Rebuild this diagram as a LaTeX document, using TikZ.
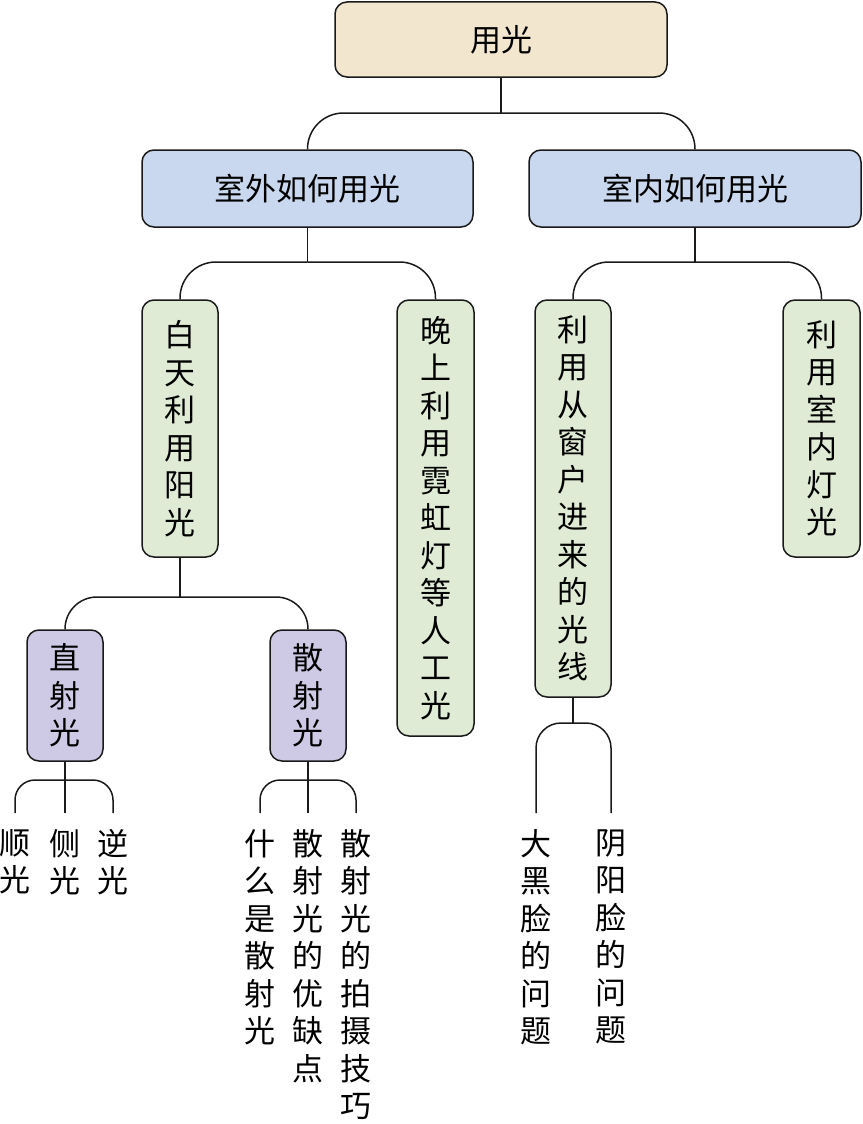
\documentclass[tikz,border=0pt]{standalone}
\usepackage{fontspec}
\newfontfamily\cjk{Noto Sans CJK SC}
\definecolor{cRoot}{HTML}{F2E6CF}
\definecolor{cBlue}{HTML}{C9D8EE}
\definecolor{cGreen}{HTML}{DFEBD5}
\definecolor{cPurple}{HTML}{CEC9E4}
\definecolor{cLine}{HTML}{1A1A1A}
\tikzset{
  box/.style={draw=cLine, line width=1.5pt, rounded corners=12pt, align=center,
    inner sep=0pt, font=\cjk\fontsize{31pt}{37.5pt}\selectfont},
  leaf/.style={anchor=north, inner xsep=0pt, inner ysep=16pt, align=center,
    font=\cjk\fontsize{31pt}{37.5pt}\selectfont},
  conn/.style={draw=cLine, line width=1.5pt},
}
\begin{document}
\begin{tikzpicture}[x=1pt,y=-1pt]
\useasboundingbox (0,0) rectangle (862,1124);
% boxes
\node[box, fill=cRoot, minimum width=332, minimum height=75] (root) at (501,39.5) {用光};
\node[box, fill=cBlue, minimum width=331, minimum height=77] (out) at (307.5,188.5) {室外如何用光};
\node[box, fill=cBlue, minimum width=332, minimum height=77] (in) at (695,188.5) {室内如何用光};
\node[box, fill=cGreen, minimum width=76, minimum height=257] (day) at (180,428.5) {白\\天\\利\\用\\阳\\光};
\node[box, fill=cGreen, minimum width=77, minimum height=436] (night) at (435.5,518) {晚\\上\\利\\用\\霓\\虹\\灯\\等\\人\\工\\光};
\node[box, fill=cGreen, minimum width=76, minimum height=397] (win) at (573,498.5) {利\\用\\从\\窗\\户\\进\\来\\的\\光\\线};
\node[box, fill=cGreen, minimum width=77, minimum height=257] (lamp) at (821.5,428.5) {利\\用\\室\\内\\灯\\光};
\node[box, fill=cPurple, minimum width=76, minimum height=131] (direct) at (65,695.5) {直\\射\\光};
\node[box, fill=cPurple, minimum width=76, minimum height=131] (diffuse) at (308,695.5) {散\\射\\光};
% leaves
\node[leaf] (l1) at (15,813) {顺\\光};
\node[leaf] (l2) at (65,813) {侧\\光};
\node[leaf] (l3) at (113,813) {逆\\光};
\node[leaf] (l4) at (260,813) {什\\么\\是\\散\\射\\光};
\node[leaf] (l5) at (308,813) {散\\射\\光\\的\\优\\缺\\点};
\node[leaf] (l6) at (356,813) {散\\射\\光\\的\\拍\\摄\\技\\巧};
\node[leaf] (l7) at (536,813) {大\\黑\\脸\\的\\问\\题};
\node[leaf] (l8) at (611,813) {阴\\阳\\脸\\的\\问\\题};
% junctions
\coordinate (j0) at (501,113);
\coordinate (j1) at (307.5,262);
\coordinate (j2) at (695,262);
\coordinate (j3) at (180,597);
\coordinate (j4) at (65,780);
\coordinate (j5) at (308,780);
\coordinate (j6) at (573,723);
% connectors
\draw[conn] (root.south) -- (j0);
\draw[conn, rounded corners=36] (j0) -| (out.north);
\draw[conn, rounded corners=36] (j0) -| (in.north);
\draw[conn] (out.south) -- (j1);
\draw[conn, rounded corners=36] (j1) -| (day.north);
\draw[conn, rounded corners=36] (j1) -| (night.north);
\draw[conn] (in.south) -- (j2);
\draw[conn, rounded corners=36] (j2) -| (win.north);
\draw[conn, rounded corners=36] (j2) -| (lamp.north);
\draw[conn] (day.south) -- (j3);
\draw[conn, rounded corners=32] (j3) -| (direct.north);
\draw[conn, rounded corners=32] (j3) -| (diffuse.north);
\draw[conn] (direct.south) -- (l2.north);
\draw[conn, rounded corners=20] (j4) -| (l1.north);
\draw[conn, rounded corners=20] (j4) -| (l3.north);
\draw[conn] (diffuse.south) -- (l5.north);
\draw[conn, rounded corners=20] (j5) -| (l4.north);
\draw[conn, rounded corners=20] (j5) -| (l6.north);
\draw[conn] (win.south) -- (j6);
\draw[conn, rounded corners=25] (j6) -| (l7.north);
\draw[conn, rounded corners=25] (j6) -| (l8.north);
\end{tikzpicture}
\end{document}
